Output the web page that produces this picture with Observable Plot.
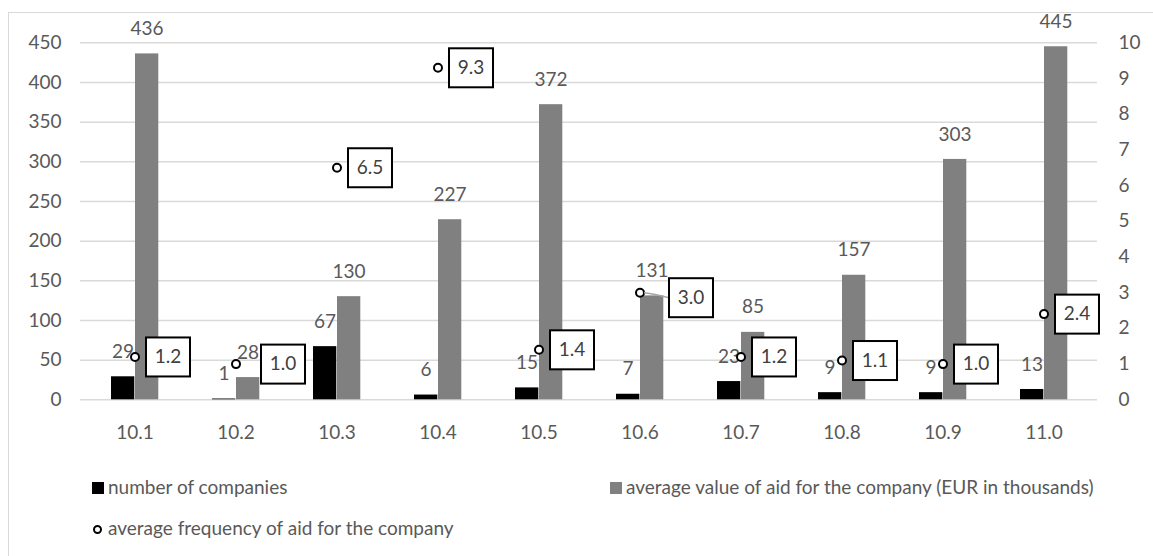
<!DOCTYPE html>
<html>
<head>
<meta charset="utf-8">
<script src="https://cdn.jsdelivr.net/npm/d3@7"></script>
<script src="https://cdn.jsdelivr.net/npm/@observablehq/plot@0.6"></script>
<style>
  html, body { margin: 0; padding: 0; background: #fff; width: 1153px; height: 556px; overflow: hidden; }
  #frame { position: absolute; left: 8px; top: 12px; width: 1160px; height: 560px; border: 1px solid #d9d9d9; box-sizing: border-box; }
  #chart { position: absolute; left: 0; top: 0; }
  .legend { position: absolute; font-family: Lato, sans-serif; font-size: 19px; color: #595959; white-space: nowrap; }
  .legend .sw { display: inline-block; width: 12px; height: 12px; vertical-align: middle; margin-right: 4px; position: relative; top: -1px; }
  .legend .ci { display: inline-block; width: 5px; height: 5px; border: 2px solid #000; border-radius: 50%; vertical-align: middle; margin-right: 6px; margin-left: 1px; position: relative; top: -1px; }
</style>
</head>
<body>
<div id="frame"></div>
<div id="chart"></div>
<div class="legend" style="left:92px; top:475px;"><span class="sw" style="background:#000"></span>number of companies</div>
<div class="legend" style="left:610px; top:475px;"><span class="sw" style="background:#808080"></span>average value of aid for the company (EUR in thousands)</div>
<div class="legend" style="left:92px; top:516px;"><span class="ci"></span>average frequency of aid for the company</div>
<script>
// ---- data ----
const categories = ["10.1", "10.2", "10.3", "10.4", "10.5", "10.6", "10.7", "10.8", "10.9", "11.0"];
const companies = [29, 1, 67, 6, 15, 7, 23, 9, 9, 13];
const avgValue = [436, 28, 130, 227, 372, 131, 85, 157, 303, 445];
const avgFrequency = [1.2, 1.0, 6.5, 9.3, 1.4, 3.0, 1.2, 1.1, 1.0, 2.4];
const leftTicks = [0, 50, 100, 150, 200, 250, 300, 350, 400, 450];
const rightTicks = [0, 1, 2, 3, 4, 5, 6, 7, 8, 9, 10];

// layout-only label nudges (px) for frequency boxes
const boxNudge = { "10.2": [14, 0], "10.6": [18, 5] };

const rightScale = 45; // 10 on right axis == 450 on left axis
const data = categories.map((c, i) => ({ cat: c, companies: companies[i], value: avgValue[i], freq: avgFrequency[i] }));
const plainBoxes = data.filter(d => !boxNudge[d.cat]);
const nudgedBoxes = data.filter(d => boxNudge[d.cat]);

const FONT = "Lato, sans-serif";
const TXT = "#595959";

function boxedText(dx, dy, leader) {
  return function (index, scales, values, dimensions, context, next) {
    const g = next(index, scales, values, dimensions, context);
    const ns = "http://www.w3.org/2000/svg";
    const rg = document.createElementNS(ns, "g");
    for (const i of index) {
      const x = values.x[i], y = values.y[i];
      if (leader) {
        const l = document.createElementNS(ns, "path");
        const x0 = x - dx, y0 = y - dy;
        l.setAttribute("d", `M${x0 + 4},${y0} Q${x0 + 14},${y0 + 1} ${x - 22},${y}`);
        l.setAttribute("fill", "none");
        l.setAttribute("stroke", "#a6a6a6");
        l.setAttribute("stroke-width", 1.5);
        rg.appendChild(l);
      }
      const r = document.createElementNS(ns, "rect");
      r.setAttribute("x", x - 22);
      r.setAttribute("y", y - 19.5);
      r.setAttribute("width", 44);
      r.setAttribute("height", 39);
      r.setAttribute("fill", "#fff");
      r.setAttribute("stroke", "#000");
      r.setAttribute("stroke-width", 2);
      rg.appendChild(r);
    }
    g.insertBefore(rg, g.firstChild);
    return g;
  };
}

const chart = Plot.plot({
  width: 1153,
  height: 460,
  marginTop: 42.3,
  marginBottom: 60.7,
  marginLeft: 80,
  marginRight: 56,
  style: { fontFamily: FONT, fontSize: "19px", color: TXT, background: "transparent", overflow: "visible" },
  x: { domain: categories, padding: 0, axis: null },
  y: { domain: [0, 450], axis: null },
  marks: [
    Plot.gridY(leftTicks, { stroke: "#d9d9d9", strokeOpacity: 1, strokeWidth: 1.5 }),
    Plot.axisX({ tickSize: 0, tickPadding: 26, fontSize: 19, fill: TXT, label: null }),
    Plot.axisY(leftTicks, { anchor: "left", tickSize: 0, tickPadding: 19, fontSize: 19, fill: TXT, label: null }),
    Plot.axisY(rightTicks.map(t => t * rightScale), { anchor: "right", tickSize: 0, tickPadding: 21, fontSize: 19, fill: TXT, tickFormat: d => String(d / rightScale), label: null, textAnchor: "start" }),
    Plot.barY(data, { x: "cat", y: "companies", fill: "#000", insetLeft: 27, insetRight: 50.7 }),
    Plot.barY(data, { x: "cat", y: "value", fill: "#808080", insetLeft: 51, insetRight: 26.7 }),
    Plot.text(data, { x: "cat", y: "companies", text: d => String(d.companies), dx: -12, dy: -25, fill: TXT, fontSize: 19 }),
    Plot.text(data, { x: "cat", y: "value", text: d => String(d.value), dx: 12, dy: -25, fill: TXT, fontSize: 19 }),
    Plot.dot(data, { x: "cat", y: d => d.freq * rightScale, r: 4, fill: "#fff", stroke: "#000", strokeWidth: 2 }),
    Plot.text(plainBoxes, { x: "cat", y: d => d.freq * rightScale, text: d => d.freq.toFixed(1), dx: 33, fill: "#404040", fontSize: 19, render: boxedText(33, 0, false) }),
    ...nudgedBoxes.map(d => {
      const [ndx, ndy] = boxNudge[d.cat];
      return Plot.text([d], { x: "cat", y: e => e.freq * rightScale, text: e => e.freq.toFixed(1), dx: 33 + ndx, dy: ndy, fill: "#404040", fontSize: 19, render: boxedText(33 + ndx, ndy, ndx > 15) });
    })
  ]
});
document.getElementById("chart").appendChild(chart);
</script>
</body>
</html>
